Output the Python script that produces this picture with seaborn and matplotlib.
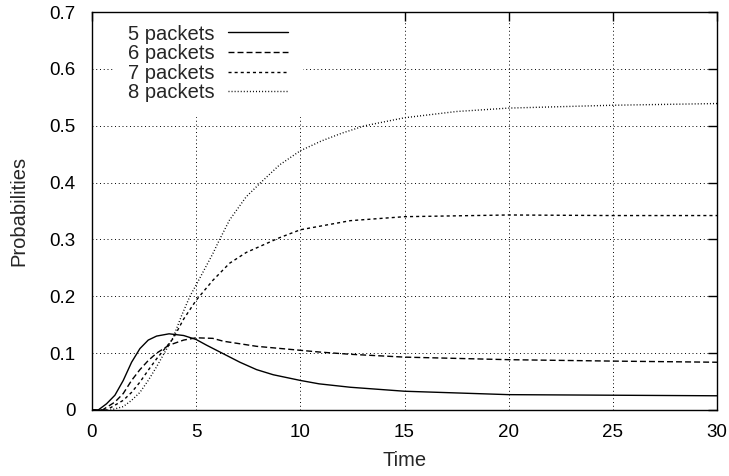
import matplotlib
matplotlib.use("Agg")
import matplotlib.pyplot as plt
import seaborn as sns
import pandas as pd

# ---- data ----
labels = ["5 packets", "6 packets", "7 packets", "8 packets"]

t5 = [0, 0.3, 0.7, 1.1, 1.5, 1.9, 2.3, 2.7, 3.1, 3.7, 4.4, 5.0, 5.5, 6.3, 7.1, 7.9, 8.7, 10, 10.9, 12.4, 15, 20, 25, 30]
y5 = [0, 0, 0.011, 0.026, 0.052, 0.084, 0.108, 0.123, 0.130, 0.134, 0.131, 0.124, 0.114, 0.099, 0.084, 0.071, 0.062, 0.052, 0.046, 0.040, 0.033, 0.027, 0.026, 0.025]

t6 = [0, 0.5, 1.1, 1.5, 1.9, 2.3, 2.7, 3.1, 3.7, 4.4, 5.0, 5.8, 6.3, 7.9, 10, 10.9, 12.4, 15, 20, 25, 30]
y6 = [0, 0, 0.014, 0.029, 0.052, 0.071, 0.087, 0.100, 0.114, 0.123, 0.127, 0.126, 0.121, 0.112, 0.105, 0.102, 0.098, 0.093, 0.0885, 0.086, 0.084]

t7 = [0, 0.7, 1.5, 1.9, 2.3, 2.7, 3.1, 3.5, 3.9, 4.4, 5.0, 5.8, 6.6, 7.4, 8.2, 9.0, 10, 12.4, 15, 20, 25, 30]
y7 = [0, 0, 0.017, 0.031, 0.049, 0.070, 0.090, 0.108, 0.126, 0.160, 0.193, 0.228, 0.258, 0.277, 0.290, 0.303, 0.317, 0.333, 0.340, 0.343, 0.342, 0.342]

t8 = [0, 0.9, 1.5, 1.9, 2.3, 2.7, 3.1, 3.5, 3.9, 4.3, 4.7, 5.0, 5.8, 6.1, 6.6, 7.4, 8.1, 9.0, 10, 11, 12, 13.1, 15, 17.5, 20, 25, 30]
y8 = [0, 0, 0.006, 0.017, 0.031, 0.052, 0.076, 0.102, 0.128, 0.166, 0.200, 0.220, 0.275, 0.298, 0.334, 0.375, 0.400, 0.431, 0.456, 0.473, 0.487, 0.500, 0.514, 0.525, 0.531, 0.536, 0.539]

x_ticks = [0, 5, 10, 15, 20, 25, 30]
y_ticks = [0, 0.1, 0.2, 0.3, 0.4, 0.5, 0.6, 0.7]
y_tick_labels = ["0", "0.1", "0.2", "0.3", "0.4", "0.5", "0.6", "0.7"]

series = [(t5, y5), (t6, y6), (t7, y7), (t8, y8)]
styles = ["-", (0, (4.3, 2.2)), (0, (2.2, 2.2)), (0, (0.7, 1.5))]

# ---- styling ----
sns.set_style("white")
plt.rcParams["font.family"] = ["Liberation Sans", "DejaVu Sans"]
plt.rcParams["lines.scale_dashes"] = False

fig = plt.figure(figsize=(7.29, 4.76), dpi=100)
ax = fig.add_axes([92 / 729, 1 - 410 / 476, 625 / 729, 398 / 476])

for (tt, yy), lab, ls in zip(series, labels, styles):
    df = pd.DataFrame({"Time": tt, "Probabilities": yy})
    sns.lineplot(data=df, x="Time", y="Probabilities", ax=ax, color="black",
                 linewidth=1.0, linestyle=ls, label=lab, estimator=None, zorder=2)

ax.set_xlim(0, 30)
ax.set_ylim(0, 0.7)
ax.set_xticks(x_ticks)
ax.set_xticklabels([str(v) for v in x_ticks])
ax.set_yticks(y_ticks)
ax.set_yticklabels(y_tick_labels)

# dotted grid at each tick, drawn beneath the key box
grid_ls = (0, (0.7, 2.0))
for xv in x_ticks:
    ax.axvline(xv, color="black", linewidth=0.7, linestyle=grid_ls, zorder=0.5)
for yv in y_ticks:
    ax.axhline(yv, color="black", linewidth=0.7, linestyle=grid_ls, zorder=0.5)
ax.grid(False)

for s in ax.spines.values():
    s.set_visible(True)
    s.set_color("black")
    s.set_linewidth(1.0)

ax.tick_params(axis="both", which="major", direction="in", length=6.5, width=1.0,
               top=True, right=True, labelsize=13.5, colors="black")
ax.tick_params(axis="x", pad=10)
ax.tick_params(axis="y", pad=12)

ax.set_xlabel("Time", fontsize=14.5, labelpad=7)
ax.set_ylabel("Probabilities", fontsize=14.5, labelpad=15)

leg = ax.legend(loc="upper left", bbox_to_anchor=(0.035, 1.004), markerfirst=False,
                frameon=True, fontsize=14.5, handlelength=3.0, labelspacing=0.03,
                borderpad=0.7, handletextpad=0.65, borderaxespad=0)
leg.get_frame().set_facecolor("white")
leg.get_frame().set_edgecolor("white")
leg.get_frame().set_alpha(1.0)
leg.get_frame().set_boxstyle("square", pad=0)
leg.set_zorder(1.5)

fig.savefig("out.png", dpi=100)
